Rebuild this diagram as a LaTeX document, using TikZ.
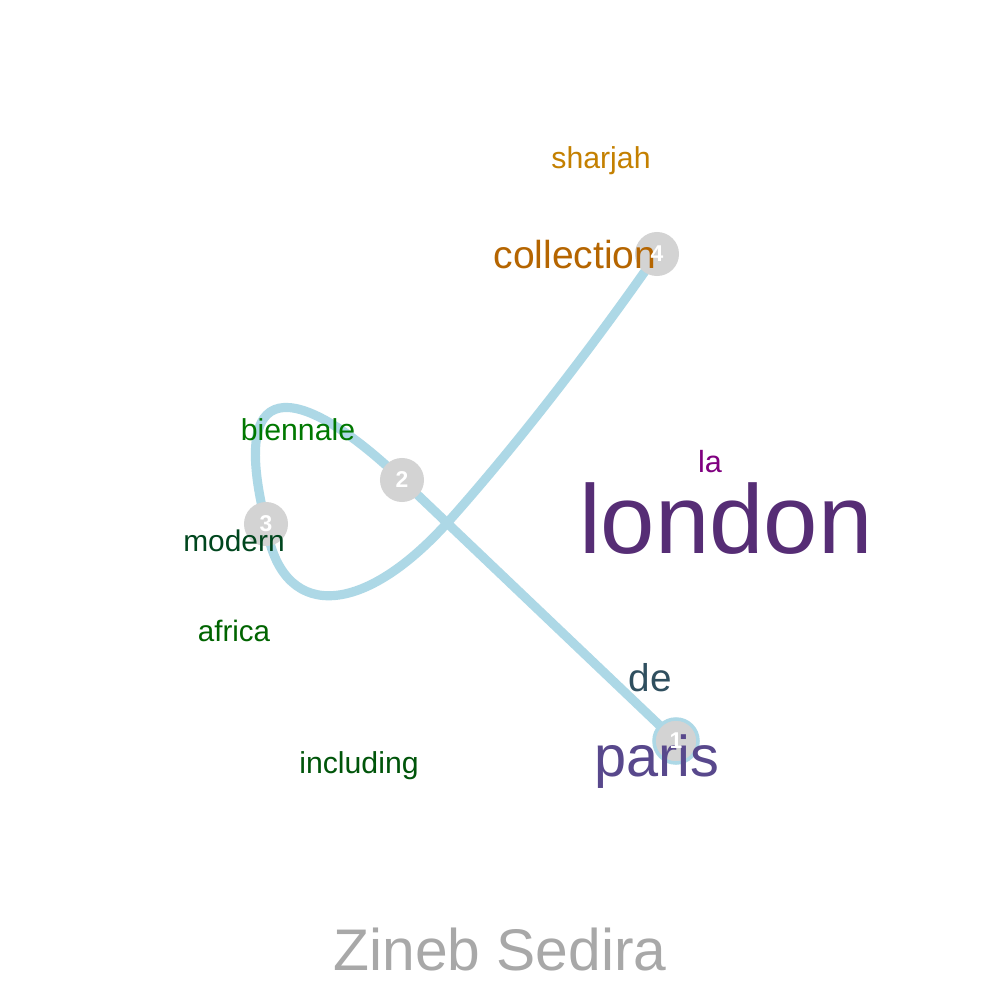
\documentclass[tikz,border=0pt]{standalone}
\usepackage{fontspec}
\setmainfont{Liberation Sans}
\definecolor{curvecol}{RGB}{173,216,230}
\definecolor{dotcol}{RGB}{211,211,211}
\definecolor{csharjah}{RGB}{196,128,0}
\definecolor{ccollection}{RGB}{181,101,0}
\definecolor{cla}{RGB}{128,0,128}
\definecolor{clondon}{RGB}{86,45,117}
\definecolor{cde}{RGB}{47,79,95}
\definecolor{cparis}{RGB}{88,72,140}
\definecolor{cbiennale}{RGB}{0,120,0}
\definecolor{cmodern}{RGB}{0,70,30}
\definecolor{cafrica}{RGB}{0,100,0}
\definecolor{cincluding}{RGB}{0,85,10}
\definecolor{ctitle}{RGB}{168,168,168}
\tikzset{
  word/.style={anchor=base, inner sep=0pt},
  dot/.style={circle, fill=dotcol, minimum size=0.44cm, inner sep=0pt},
  num/.style={text=white, font=\fontsize{6.5}{6.5}\selectfont\bfseries, inner sep=0pt},
  route/.style={draw=curvecol, line width=2.6pt, line cap=round, line join=round}
}
\begin{document}
\begin{tikzpicture}[x=0.01cm, y=-0.01cm]
\useasboundingbox[fill=white] (0,0) rectangle (1000,1000);
% stops
\coordinate (p1) at (676,741);
\coordinate (p2) at (402,480);
\coordinate (p3) at (266,524);
\coordinate (p4) at (657,254);
\coordinate (px) at (448,522);
% route
\draw[route] (p1) -- (p2)
  .. controls (310,392) and (225,360) .. (p3)
  .. controls (280,620) and (360,620) .. (px)
  .. controls (530,430) and (610,322) .. (p4);
% dots
\node[dot, draw=curvecol, line width=1pt] (c1) at (p1) {};
\node[dot] (c2) at (p2) {};
\node[dot] (c3) at (p3) {};
\node[dot] (c4) at (p4) {};
% words
\node[word, text=csharjah, font=\fontsize{8.6}{8.6}\selectfont] (wsharjah) at (601,168) {sharjah};
\node[word, text=ccollection, font=\fontsize{11.1}{11.1}\selectfont] (wcollection) at (575,268) {collection};
\node[word, text=cla, font=\fontsize{8.7}{8.7}\selectfont] (wla) at (710,472) {la};
\node[word, text=clondon, font=\fontsize{27.8}{27.8}\selectfont] (wlondon) at (726,553) {london};
\node[word, text=cde, font=\fontsize{11}{11}\selectfont] (wde) at (650,691) {de};
\node[word, text=cparis, font=\fontsize{16.4}{16.4}\selectfont] (wparis) at (657,776) {paris};
\node[word, text=cbiennale, font=\fontsize{8.6}{8.6}\selectfont] (wbiennale) at (298,440) {biennale};
\node[word, text=cmodern, font=\fontsize{8.5}{8.5}\selectfont] (wmodern) at (234,551) {modern};
\node[word, text=cafrica, font=\fontsize{8.4}{8.4}\selectfont] (wafrica) at (234,641) {africa};
\node[word, text=cincluding, font=\fontsize{8.6}{8.6}\selectfont] (wincluding) at (359,773) {including};
\node[word, text=ctitle, font=\fontsize{16.7}{16.7}\selectfont] (wtitle) at (500,970) {Zineb Sedira};
% numbers
\node[num] (n1) at (p1) {1};
\node[num] (n2) at (p2) {2};
\node[num] (n3) at (p3) {3};
\node[num] (n4) at (p4) {4};
\end{tikzpicture}
\end{document}
